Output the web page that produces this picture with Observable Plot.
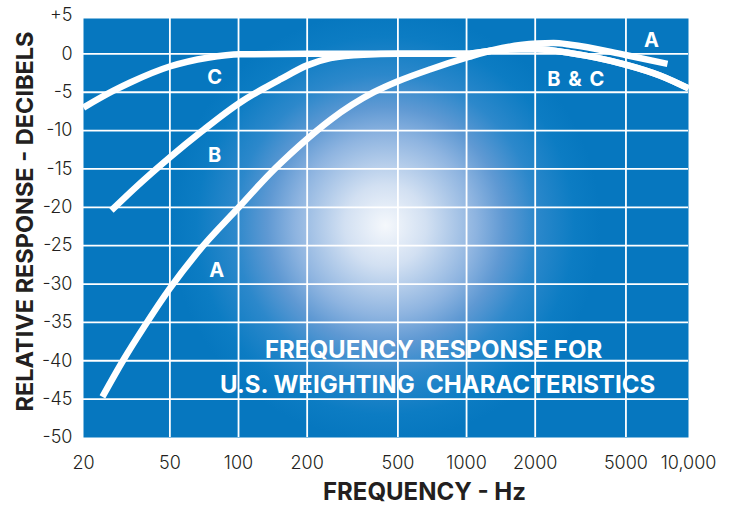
<!DOCTYPE html>
<html>
<head>
<meta charset="utf-8">
<script src="https://cdn.jsdelivr.net/npm/d3@7"></script>
<script src="https://cdn.jsdelivr.net/npm/@observablehq/plot@0.6"></script>
<style>
html, body { margin: 0; padding: 0; background: #fff; }
#chart svg text { white-space: pre; }
#chart svg g { font-variant: normal; }
</style>
</head>
<body>
<div id="chart"></div>
<script>
// ---- Data ----
const freqA = [25.3, 31.4, 38.5, 49.9, 66, 101, 138, 153, 187, 253, 392, 497, 695, 1023, 1313, 1725, 2048, 2407, 2858, 4979, 7607];
const dbA   = [-44.7, -39.8, -35.6, -30.6, -25.9, -19.9, -15.55, -14.25, -11.85, -8.6, -5.0, -3.6, -2.0, -0.4, 0.5, 1.15, 1.35, 1.4, 1.2, -0.15, -1.3];

const freqB = [27.7, 36.0, 49.9, 68.9, 101, 129, 153, 200, 253, 354, 500, 1000, 1313, 1725, 2048, 2858, 4979, 7088, 9404];
const dbB   = [-20.4, -17.2, -13.5, -10.1, -6.4, -4.5, -3.3, -1.5, -0.55, -0.1, 0, 0, 0.45, 0.6, 0.6, 0.1, -1.4, -2.85, -4.5];

const freqC = [20.9, 28.3, 33.7, 49.9, 73.2, 102, 200, 500, 1000, 1313, 1725, 2048, 2858, 4979, 7088, 9404];
const dbC   = [-7.0, -4.8, -3.7, -1.65, -0.5, -0.05, 0, 0, 0, 0.45, 0.6, 0.6, 0.1, -1.4, -2.85, -4.5];

const xDomain = [20.9, 9404];
const yDomain = [-50, 5];

const xTickValues = [20, 50, 100, 200, 500, 1000, 2000, 5000, 10000];
const xTickLabels = ["20", "50", "100", "200", "500", "1000", "2000", "5000", "10,000"];
const yTickValues = [5, 0, -5, -10, -15, -20, -25, -30, -35, -40, -45, -50];
const yTickLabels = ["+5", "0", "-5", "-10", "-15", "-20", "-25", "-30", "-35", "-40", "-45", "-50"];

const gridX = [50, 100, 200, 500, 1000, 2000, 5000];
const gridY = [0, -5, -10, -15, -20, -25, -30, -35, -40, -45];

const curveLabels    = ["C", "B", "A", "A", "B & C"];
const curveLabelFreq = [78.6, 78.6, 80.2, 6474, 3035];
const curveLabelDb   = [-3.1, -13.25, -28.2, 1.7, -3.35];

const titleLines = ["FREQUENCY RESPONSE FOR", "U.S. WEIGHTING  CHARACTERISTICS"];
const titleFreq  = [717, 746];
const titleDb    = [-38.7, -43.2];

const xTitle = "FREQUENCY - Hz";
const yTitle = "RELATIVE RESPONSE - DECIBELS";

// ---- Build tables ----
const toRows = (fs, ds) => fs.map((f, i) => ({f, db: ds[i]}));
const rowsA = toRows(freqA, dbA);
const rowsB = toRows(freqB, dbB);
const rowsC = toRows(freqC, dbC);
const labelRows = curveLabels.map((t, i) => ({t, f: curveLabelFreq[i], db: curveLabelDb[i]}));
const titleRows = titleLines.map((t, i) => ({t, f: titleFreq[i], db: titleDb[i]}));

const clampX = v => Math.min(Math.max(v, xDomain[0]), xDomain[1]);
const xTickRows = xTickValues.map((v, i) => ({pos: clampX(v), label: xTickLabels[i]}));
const yLabelMap = new Map(yTickValues.map((v, i) => [v, yTickLabels[i]]));

const ink = "#231f20";
const curveStyle = {x: "f", y: "db", stroke: "#fff", strokeWidth: 6.5, curve: "monotone-x", strokeLinecap: "butt"};

const plot = Plot.plot({
  width: 732,
  height: 506,
  marginLeft: 83,
  marginRight: 44,
  marginTop: 15,
  marginBottom: 69,
  style: {fontFamily: "Inter, 'Open Sans', sans-serif", fontSize: "18px", fontWeight: 300, color: ink, background: "#fff"},
  x: {type: "log", domain: xDomain, axis: null},
  y: {domain: yDomain, ticks: yTickValues, tickFormat: d => yLabelMap.get(d), tickSize: 0, tickPadding: 11, label: null},
  marks: [
    Plot.frame({fill: "url(#bgGrad)", stroke: "none", insetTop: 3}),
    Plot.ruleX(gridX, {stroke: "#fff", strokeWidth: 1.8, insetTop: 3}),
    Plot.ruleY(gridY, {stroke: "#fff", strokeWidth: 1.8}),
    Plot.line(rowsC, curveStyle),
    Plot.line(rowsB, curveStyle),
    Plot.line(rowsA, curveStyle),
    Plot.text(xTickRows, {x: "pos", text: "label", frameAnchor: "bottom", lineAnchor: "top", dy: 19, fill: ink, fontSize: 18, fontWeight: 300}),
    Plot.text(labelRows, {x: "f", y: "db", text: "t", fill: "#fff", fontWeight: 700, fontSize: 20, lineAnchor: "middle"}),
    Plot.text(titleRows, {x: "f", y: "db", text: "t", fill: "#fff", fontWeight: 700, fontSize: 24, lineAnchor: "middle"}),
    Plot.text([yTitle], {frameAnchor: "left", textAnchor: "middle", rotate: -90, dx: -58.5, dy: -5, fill: ink, fontWeight: 700, fontSize: 23.5, lineAnchor: "middle"}),
    Plot.text([xTitle], {frameAnchor: "bottom", textAnchor: "middle", dx: 38.5, dy: 55, fill: ink, fontWeight: 700, fontSize: 24, lineAnchor: "middle"})
  ]
});

const svgEl = plot.tagName.toLowerCase() === "svg" ? plot : plot.querySelector("svg");
const svg = d3.select(svgEl);
const defs = svg.insert("defs", ":first-child");
const grad = defs.append("radialGradient")
  .attr("id", "bgGrad")
  .attr("gradientUnits", "userSpaceOnUse")
  .attr("cx", 385).attr("cy", 225).attr("r", 215);
[[0, "#f5f8fc"], [0.19, "#d2e0f2"], [0.42, "#8eb4e0"], [0.55, "#5f99d3"], [0.7, "#2c88cb"], [0.88, "#0c7cc3"], [1, "#0677bf"]]
  .forEach(([o, c]) => grad.append("stop").attr("offset", o).attr("stop-color", c));

// wider spacing on the combined curve label, as in the reference
svg.selectAll("text").filter(function() { return this.textContent === "B & C"; }).style("letter-spacing", "1.5px");

document.getElementById("chart").appendChild(plot);
</script>
</body>
</html>
